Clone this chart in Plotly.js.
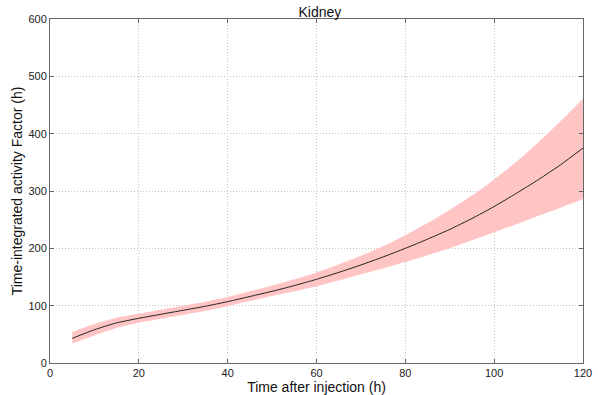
<!DOCTYPE html>
<html>
<head>
<meta charset="utf-8">
<script src="https://cdn.plot.ly/plotly-3.0.1.min.js"></script>
<style>html,body{margin:0;padding:0;background:#fff;}#chart{width:598px;height:395px;}</style>
</head>
<body>
<div id="chart"></div>
<script>
const timeH = [5, 10, 15, 20, 25, 30, 35, 40, 45, 50, 55, 60, 65, 70, 75, 80, 85, 90, 95, 100, 105, 110, 115, 120];
const median = [43, 58, 70, 78, 85, 92, 99, 107, 116, 125, 135, 146, 158, 171, 185, 200, 216, 233, 252, 273, 296, 320, 346, 375];
const upper  = [54, 68, 79, 86, 93, 100, 107, 115, 125, 135, 146, 158, 172, 187, 204, 223, 244, 267, 292, 320, 351, 385, 422, 461];
const lower  = [34, 48, 61, 70, 77, 84, 91, 99, 108, 117, 125, 134, 144, 155, 165, 176, 188, 200, 214, 228, 242, 257, 271, 286];

const traces = [
  {x: timeH, y: lower, mode: 'lines', line: {width: 0, color: 'rgba(0,0,0,0)', shape: 'spline', smoothing: 0.6}, hoverinfo: 'skip', showlegend: false},
  {x: timeH, y: upper, mode: 'lines', fill: 'tonexty', fillcolor: 'rgb(255,196,196)', line: {width: 0, color: 'rgba(0,0,0,0)', shape: 'spline', smoothing: 0.6}, hoverinfo: 'skip', showlegend: false},
  {x: timeH, y: median, mode: 'lines', line: {width: 1, color: '#222', shape: 'spline', smoothing: 0.6}, showlegend: false}
];

const axisCommon = {
  showline: true, linecolor: '#666', linewidth: 1, mirror: 'ticks',
  ticks: 'inside', ticklen: 4, tickcolor: '#666',
  showgrid: true, gridcolor: '#c4c4c4', griddash: '1px,2px', gridwidth: 1,
  zeroline: false,
  tickfont: {family: 'Liberation Sans, Arial, sans-serif', size: 11, color: '#222'}
};

const layout = {
  width: 598, height: 395,
  margin: {l: 50, r: 15, t: 19, b: 32},
  paper_bgcolor: '#fff', plot_bgcolor: '#fff',
  font: {family: 'Liberation Sans, Arial, sans-serif', color: '#000'},
  title: {text: 'Kidney', font: {size: 14, color: '#111'}, x: 0.535, xanchor: 'center', y: 0.97, yanchor: 'middle'},
  xaxis: Object.assign({}, axisCommon, {range: [0, 120], tickvals: [0, 20, 40, 60, 80, 100, 120], automargin: false,
    title: {text: 'Time after injection (h)', font: {size: 14, color: '#111'}, standoff: 0}}),
  yaxis: Object.assign({}, axisCommon, {range: [0, 600], tickvals: [0, 100, 200, 300, 400, 500, 600], automargin: false,
    title: {text: 'Time-integrated activity Factor (h)', font: {size: 14, color: '#111'}, standoff: 2}})
};

Plotly.newPlot('chart', traces, layout, {displayModeBar: false, staticPlot: true});
</script>
</body>
</html>
